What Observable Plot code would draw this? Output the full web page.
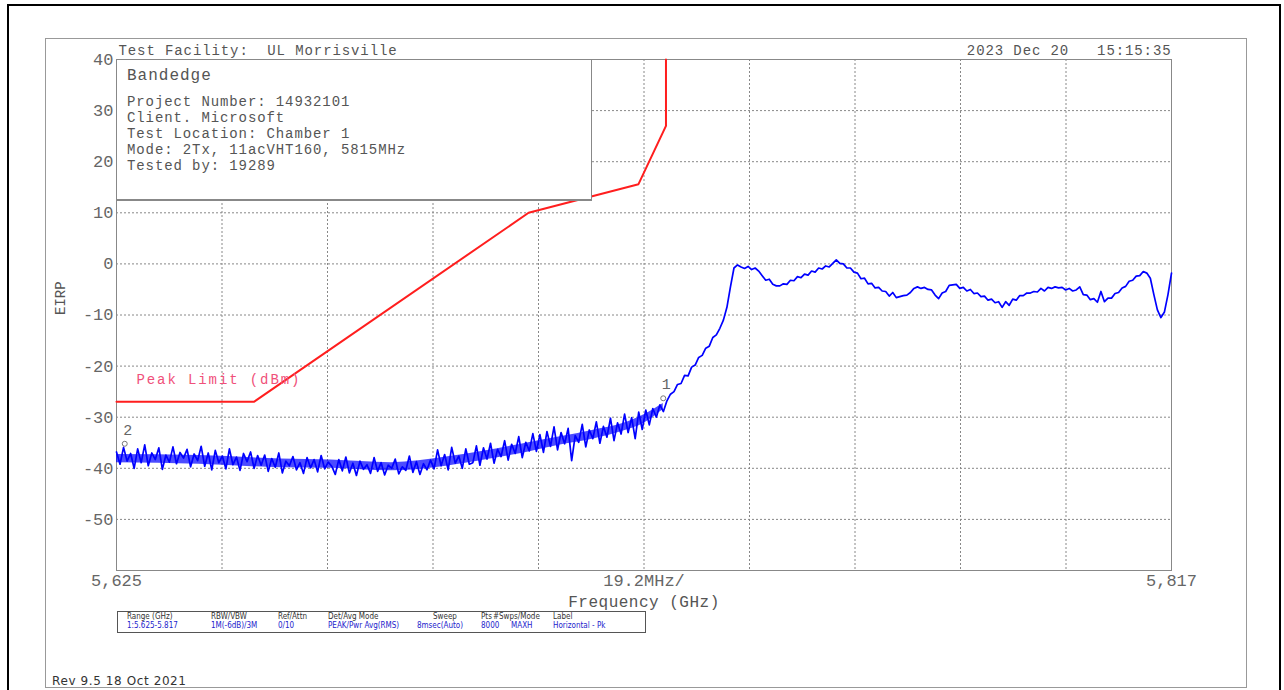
<!DOCTYPE html>
<html>
<head>
<meta charset="utf-8">
<script src="https://cdn.jsdelivr.net/npm/d3@7"></script>
<script src="https://cdn.jsdelivr.net/npm/@observablehq/plot@0.6"></script>
<style>
  html, body { margin: 0; padding: 0; background: #fff; }
  #page { position: relative; width: 1284px; height: 690px; overflow: hidden; font-family: "Liberation Mono", "DejaVu Sans Mono", monospace; }
  #chart { position: absolute; left: 0; top: 0; }
  .outer { position: absolute; left: 7px; top: 4px; width: 1270px; height: 720px; border: 2px solid #000; pointer-events: none; }
  .inner { position: absolute; left: 45px; top: 38px; width: 1200px; height: 648px; border: 1px solid #999; pointer-events: none; }
  .info { position: absolute; left: 116px; top: 59px; width: 474px; height: 139px; background: #fff; border: 1px solid #888; border-bottom: 2px solid #888; color: #555; }
  .info div { position: absolute; left: 10px; white-space: pre; font-size: 14px; letter-spacing: 0.9px; }
  .table { position: absolute; left: 117px; top: 611px; width: 527px; height: 20px; border: 1px solid #555; font-family: "DejaVu Sans Condensed", "DejaVu Sans", sans-serif; font-stretch: condensed; font-size: 8px; }
  .table span { position: absolute; white-space: pre; }
  .rev { position: absolute; left: 52px; top: 674px; font-family: "DejaVu Sans", sans-serif; font-size: 12px; letter-spacing: 0.6px; color: #333; }
</style>
</head>
<body>
<div id="page">
  <div id="chart"></div>
  <div class="outer"></div>
  <div class="inner"></div>
  <div class="info" id="info"></div>
  <div class="table" id="table"></div>
  <div class="rev">Rev 9.5 18 Oct 2021</div>
</div>
<script>
// ---------- data ----------
const FREQ_START = 5.625;
const FREQ_STOP = 5.817;

const yTicks = [40, 30, 20, 10, 0, -10, -20, -30, -40, -50];
const yGrid = [40, 30, 20, 10, 0, -10, -20, -30, -40, -50, -60];
const xGrid = [5.625, 5.6442, 5.6634, 5.6826, 5.7018, 5.721, 5.7402, 5.7594, 5.7786, 5.7978, 5.817];
const xTickFreqs = [5.625, 5.721, 5.817];
const xTickLabels = ["5,625", "19.2MHz/", "5,817"];

// trace levels (dBm), evenly spaced sweep points from FREQ_START to FREQ_STOP
const traceLevels = [
  -36.8,-39.2,-35.9,-38.6,-37.1,-40.0,-36.2,-38.9,-35.4,-39.5,-37.0,-38.3,-36.0,-40.2,-37.4,-38.8,-35.8,-39.1,-36.9,-38.0,-36.3,-39.7,-37.2,-38.5,-35.7,
  -39.6,-37.0,-40.3,-36.5,-38.9,-37.6,-40.1,-36.2,-39.3,-37.8,-40.4,-37.1,-38.7,-36.8,-40.0,-37.5,-39.4,
  -37.4,-40.6,-38.1,-39.8,-37.0,-40.9,-38.6,-39.5,-37.7,-40.3,-38.9,-41.0,-37.9,-39.9,-38.3,-40.7,-37.5,-40.1,-38.8,-39.6,
  -41.2,-38.3,-40.5,-37.8,-40.9,-39.0,-41.4,-38.6,-40.2,-39.3,-41.0,-37.9,-40.6,-38.9,-41.3,-39.4,-40.0,-38.2,-41.1,-39.7,-40.4,-37.6,-40.8,-38.7,-41.2,-39.1,-40.3,-38.4,
  -40.1,-36.4,-39.5,-37.3,-40.3,-35.9,-39.0,-37.6,-40.0,-36.2,-39.2,
  -38.9,-35.6,-39.4,-36.0,-38.2,-35.1,-39.0,-36.3,-37.7,-34.6,-38.4,-35.3,-37.1,-33.8,-37.9,-34.9,-36.6,-33.2,-36.7,-33.4,
  -36.9,-32.8,-35.7,-31.9,-36.4,-33.0,-35.2,-32.2,-38.5,-33.6,-34.9,-31.4,-35.8,-32.5,-34.2,-30.9,-35.1,-31.8,-33.9,-30.2,-34.6,-31.1,-33.3,
  -29.4,-33.0,-30.1,-34.2,-29.0,-32.4,-28.6,-31.5,-28.3,
  -30.0,-27.6,-28.9,-26.8,
  -25.5,-25.0,-23.6,-23.4,-21.8,-21.9,-20.2,-19.8,-18.3,-17.9,-16.5,-16.1,-14.4,-13.9,-12.6,-11.0,
  -8.5,-4.5,-0.8,-0.2,
  -0.6,-0.9,-0.5,-1.1,-0.8,-1.4,
  -2.3,-3.2,-3.0,-4.0,-4.3,-4.3,-3.9,-4.0,-3.2,-3.3,-2.5,-2.7,-2.0,-2.2,-1.4,-1.6,-0.8,-1.0,-0.4,-0.6,
  0.1,0.8,0.1,0.0,-0.8,-0.8,-1.6,-1.8,-2.9,-2.8,-3.9,-3.8,-4.7,-4.6,-5.3,-5.4,-6.3,-5.6,-6.6,-6.4,
  -6.2,-6.1,-5.6,-4.8,-4.5,-4.8,-4.6,-5.0,-5.1,-6.1,-6.8,-5.7,-5.4,-4.2,-4.1,-4.0,-4.8,-4.6,-5.3,-5.0,
  -5.8,-5.7,-6.4,-6.3,-7.1,-6.9,-7.6,-7.4,-8.5,-7.4,-8.1,-6.9,-7.1,-6.2,-6.2,-5.7,-5.7,-5.4,-5.5,-4.8,
  -5.3,-4.6,-4.8,-4.5,-4.7,-4.6,-5.1,-4.8,-5.3,-5.1,-4.5,-6.0,-6.1,-7.0,-6.8,-7.5,-5.4,-7.4,-6.7,-6.7,
  -5.8,-5.6,-4.7,-4.4,-3.4,-3.2,-2.4,-2.3,-1.5,-1.8,-2.8,-6.0,-9.0,-10.5,-9.4,-6.0,-1.8
];

// dense core of the noise floor (estimated envelope)
const bandFreqs = [5.625, 5.640, 5.655, 5.664, 5.675, 5.685, 5.692, 5.700, 5.706, 5.712, 5.717, 5.721, 5.7245];
const bandLow   = [-38.9, -39.2, -39.9, -40.0, -40.5, -39.6, -38.4, -36.8, -35.4, -34.2, -32.8, -31.2, -28.5];
const bandHigh  = [-37.3, -37.5, -38.2, -38.4, -38.9, -37.8, -36.6, -35.0, -33.8, -32.5, -31.3, -29.5, -27.3];

const limitFreqs  = [5.625, 5.650, 5.700, 5.720, 5.725, 5.725];
const limitLevels = [-27,   -27,   10,    15.6,  27,    40];
const limitLabel = "Peak Limit (dBm)";

const markerFreqs  = [5.7245, 5.6265];
const markerLevels = [-26.3, -35.2];
const markerLabels = ["1", "2"];

const headerLeft = "Test Facility:  UL Morrisville";
const headerRight = "2023 Dec 20   15:15:35";
const yLabel = "EIRP";
const xLabel = "Frequency (GHz)";

const infoTitle = "Bandedge";
const infoLines = [
  "Project Number: 14932101",
  "Client. Microsoft",
  "Test Location: Chamber 1",
  "Mode: 2Tx, 11acVHT160, 5815MHz",
  "Tested by: 19289"
];

const tableHeaders = ["Range (GHz)", "RBW/VBW", "Ref/Attn", "Det/Avg Mode", "Sweep", "Pts", "#Swps/Mode", "Label"];
const tableValues  = ["1:5.625-5.817", "1M(-6dB)/3M", "0/10", "PEAK/Pwr Avg(RMS)", "8msec(Auto)", "8000", "MAXH", "Horizontal - Pk"];

// ---------- build ----------
const N = traceLevels.length;
const trace = traceLevels.map((v, i) => ({f: FREQ_START + i * (FREQ_STOP - FREQ_START) / (N - 1), v}));
const band = bandFreqs.map((f, i) => ({f, lo: bandLow[i], hi: bandHigh[i]}));
const limit = limitFreqs.map((f, i) => ({f, v: limitLevels[i]}));
const markers = markerFreqs.map((f, i) => ({f, v: markerLevels[i], label: markerLabels[i]}));

const chart = Plot.plot({
  width: 1284,
  height: 690,
  marginLeft: 116,
  marginRight: 113,
  marginTop: 59,
  marginBottom: 120,
  style: {fontFamily: "'Liberation Mono', 'DejaVu Sans Mono', monospace", fontSize: "17px", color: "#666", background: "transparent"},
  x: {domain: [FREQ_START, FREQ_STOP]},
  y: {domain: [-60, 40]},
  marks: [
    Plot.gridX(xGrid, {stroke: "#888", strokeOpacity: 1, strokeDasharray: "2,2"}),
    Plot.gridY(yGrid, {stroke: "#888", strokeOpacity: 1, strokeDasharray: "2,2"}),
    Plot.frame({stroke: "#888"}),
    Plot.axisY(yTicks, {tickSize: 0, tickPadding: 3, tickFormat: d => String(d), label: null, fontSize: 17}),
    Plot.axisX(xTickFreqs, {tickSize: 0, tickPadding: 3, tickFormat: (d, i) => xTickLabels[i], label: null, fontSize: 17}),
    Plot.areaY(band, {x: "f", y1: "lo", y2: "hi", fill: "#0000ff", fillOpacity: 0.7, curve: "monotone-x"}),
    Plot.line(trace, {x: "f", y: "v", stroke: "#0000ff", strokeWidth: 1.7}),
    Plot.line(limit, {x: "f", y: "v", stroke: "#ff1e1e", strokeWidth: 2}),
    Plot.text([limitLabel], {x: limitFreqs[0], y: limitLevels[0], text: d => d, textAnchor: "start", dx: 20, dy: -22, fill: "#f0507a", fontSize: 14}),
    Plot.dot(markers, {x: "f", y: "v", r: 2.5, stroke: "#777", strokeWidth: 1}),
    Plot.text(markers, {x: "f", y: "v", text: "label", dy: -14, dx: 3, fill: "#666", fontSize: 15}),
    Plot.text([headerLeft], {frameAnchor: "top-left", lineAnchor: "middle", text: d => d, textAnchor: "start", dx: 2, dy: -9, fill: "#555", fontSize: 14}),
    Plot.text([headerRight], {frameAnchor: "top-right", lineAnchor: "middle", text: d => d, textAnchor: "end", dy: -9, fill: "#555", fontSize: 14}),
    Plot.text([xLabel], {frameAnchor: "bottom", lineAnchor: "middle", text: d => d, dy: 31, fill: "#555", fontSize: 16}),
    Plot.text([yLabel], {frameAnchor: "left", text: d => d, dx: -56, rotate: -90, fill: "#555", fontSize: 14})
  ]
});
// letter spacing for the plotter-style texts (matched by their content)
const spacing = new Map([[headerLeft, "0.9px"], [headerRight, "0.9px"], [limitLabel, "1.9px"], [xLabel, "0.5px"]]);
chart.querySelectorAll("text").forEach(el => {
  const s = spacing.get(el.textContent);
  if (s) { el.setAttribute("letter-spacing", s); el.style.letterSpacing = s; }
});
document.getElementById("chart").appendChild(chart);

// info box
const info = document.getElementById("info");
const t = document.createElement("div");
t.textContent = infoTitle; t.style.top = "7px"; t.style.fontSize = "16px"; t.style.letterSpacing = "1px";
info.appendChild(t);
infoLines.forEach((s, i) => {
  const d = document.createElement("div");
  d.textContent = s; d.style.top = (34 + i * 16) + "px";
  info.appendChild(d);
});

// settings table
const table = document.getElementById("table");
const hx = [9, 93, 160, 210, 315, 363, 375, 435];
const vx = [9, 93, 160, 210, 299, 363, 393, 435];
tableHeaders.forEach((s, i) => {
  const e = document.createElement("span");
  e.textContent = s; e.style.left = hx[i] + "px"; e.style.top = "0px"; e.style.color = "#333";
  table.appendChild(e);
});
tableValues.forEach((s, i) => {
  const e = document.createElement("span");
  e.textContent = s; e.style.left = vx[i] + "px"; e.style.top = "9px"; e.style.color = "#2222cc";
  table.appendChild(e);
});
</script>
</body>
</html>
